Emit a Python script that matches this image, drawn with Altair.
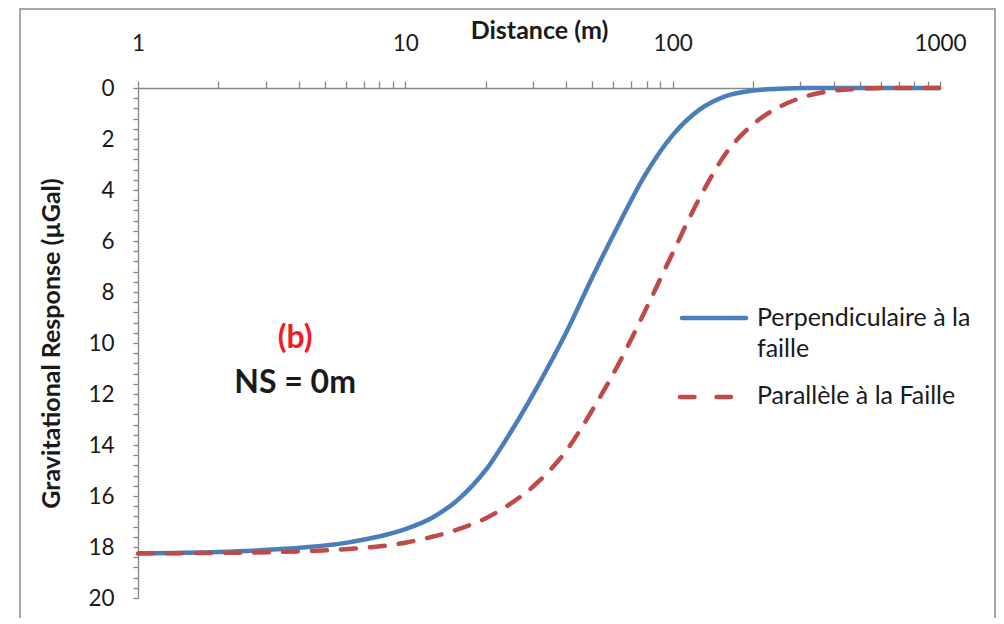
import altair as alt
import pandas as pd

# Perpendiculaire à la faille (solid blue)
perp_x = [1, 2, 3.2, 6.3, 10, 12.6, 15.8, 20, 25, 31.6, 40, 50, 63, 79, 100, 126, 158, 200, 251, 316, 1000]
perp_y = [18.25, 18.2, 18.1, 17.8, 17.3, 16.85, 16.13, 14.98, 13.43, 11.6, 9.58, 7.43, 5.33, 3.4, 1.85, 0.85, 0.32, 0.1, 0.03, 0.0, 0.0]

# Parallèle à la Faille (dashed red)
par_x = [1, 2, 3.2, 6.3, 7.9, 10, 12.6, 15.8, 20, 25, 31.6, 40, 50, 63, 79, 100, 126, 158, 200, 251, 316, 398, 501, 631, 1000]
par_y = [18.25, 18.23, 18.2, 18.07, 17.98, 17.83, 17.6, 17.3, 16.87, 16.27, 15.42, 14.22, 12.64, 10.79, 8.72,
         6.47, 4.32, 2.57, 1.42, 0.74, 0.32, 0.11, 0.03, 0.0, 0.0]

series_names = ["Perpendiculaire à la faille", "Parallèle à la Faille"]
x_ticks = [1, 2, 3, 4, 5, 6, 7, 8, 9, 10, 20, 30, 40, 50, 60, 70, 80, 90, 100,
           200, 300, 400, 500, 600, 700, 800, 900, 1000]
y_ticks = [round(i * 0.4, 1) for i in range(51)]

FONT = "Lato"
BLUE = "#4a7ebb"
RED = "#be4b48"
GRAY = "#868686"
TXT = "#1a1a1a"

df_perp = pd.DataFrame({"d": perp_x, "g": perp_y})
df_par = pd.DataFrame({"d": par_x, "g": par_y})

x_scale = alt.Scale(type="log", domain=[1, 1000])
y_scale = alt.Scale(domain=[0, 20], reverse=True)

x_axis = alt.Axis(
    orient="top", values=x_ticks, title="Distance (m)",
    labelExpr="(datum.value == 1 || datum.value == 10 || datum.value == 100 || datum.value == 1000) ? format(datum.value, 'd') : ''",
    labelOverlap=False, labelFlush=False, tickSize=7, labelPadding=26,
    titleY=-50, titleBaseline="alphabetic",
)
y_axis = alt.Axis(
    values=y_ticks, title="Gravitational Response (µGal)",
    labelExpr="(round(datum.value * 10) % 20 == 0) ? format(datum.value, 'd') : ''",
    labelOverlap=False, labelFlush=False, tickSize=5, labelPadding=19,
    titleX=-79, titleBaseline="alphabetic",
)

X = alt.X("d:Q", scale=x_scale, axis=x_axis)
Y = alt.Y("g:Q", scale=y_scale, axis=y_axis)

blue_line = alt.Chart(df_perp).mark_line(
    color=BLUE, strokeWidth=4.5, interpolate="monotone"
).encode(x=X, y=Y)

red_line = alt.Chart(df_par).mark_line(
    color=RED, strokeWidth=4.5, interpolate="monotone", strokeDash=[15, 14], strokeCap="round"
).encode(x=X, y=Y)

one = pd.DataFrame({"a": [0]})

border = alt.Chart(one).mark_rect(filled=False, stroke="#a6a6a6", strokeWidth=2).encode(
    x=alt.value(-118), x2=alt.value(857), y=alt.value(-79), y2=alt.value(560)
)

ann_b = alt.Chart(pd.DataFrame({"d": [3.87], "g": [9.8], "t": ["(b)"]})).mark_text(
    font=FONT, fontWeight="bold", fontSize=32, color="#ee1c24"
).encode(x=X, y=Y, text="t:N")

ann_ns = alt.Chart(pd.DataFrame({"d": [3.87], "g": [11.55], "t": ["NS = 0m"]})).mark_text(
    font=FONT, fontWeight="bold", fontSize=32, color=TXT
).encode(x=X, y=Y, text="t:N")

# legend (drawn manually)
leg_blue = alt.Chart(one).mark_rule(color=BLUE, strokeWidth=4.5, strokeCap="round").encode(
    x=alt.value(544), x2=alt.value(608), y=alt.value(230)
)
leg_red = alt.Chart(one).mark_rule(color=RED, strokeWidth=4.5, strokeCap="round", strokeDash=[14.5, 22]).encode(
    x=alt.value(542), x2=alt.value(594), y=alt.value(309)
)
leg_text = alt.Chart(pd.DataFrame({
    "t": ["Perpendiculaire à la", "faille", series_names[1]],
    "py": [230, 261, 308],
})).mark_text(font=FONT, fontSize=25, align="left", baseline="middle", color=TXT).encode(
    x=alt.value(619), y=alt.Y("py:Q", scale=None), text="t:N"
)

chart = alt.layer(
    border, blue_line, red_line, ann_b, ann_ns, leg_blue, leg_red, leg_text
).properties(
    width=802, height=510,
    autosize=alt.AutoSizeParams(type="none"),
    padding={"left": 130, "top": 80, "right": 56, "bottom": 20},
).configure_view(stroke=None).configure_axis(
    grid=False, domainColor=GRAY, tickColor=GRAY, domainWidth=1.3, tickWidth=1.3,
    labelFont=FONT, labelFontSize=22.5, labelColor=TXT,
    titleFont=FONT, titleFontSize=25, titleFontWeight="bold", titleColor=TXT,
)

chart.save("out.html", embed_options={"renderer": "svg", "actions": False})
